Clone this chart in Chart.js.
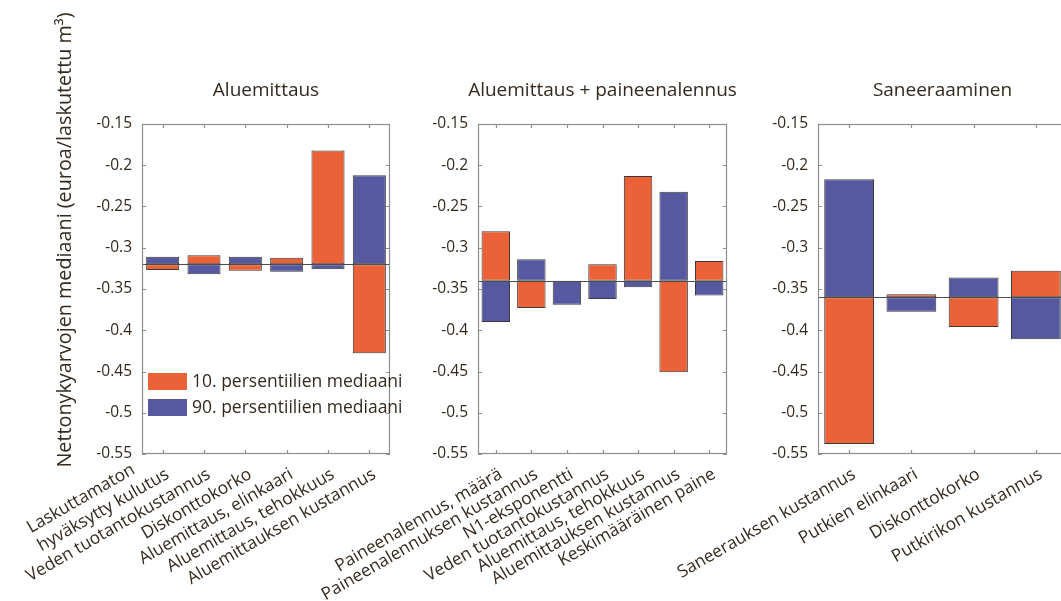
<!DOCTYPE html>
<html lang="fi">
<head>
<meta charset="utf-8">
<title>Nettonykyarvojen mediaanit</title>
<script src="https://cdn.jsdelivr.net/npm/chart.js@4.4.1/dist/chart.umd.min.js"></script>
<style>
  html, body { margin: 0; padding: 0; background: #fff; }
  #wrap { position: relative; width: 1061px; height: 601px; overflow: hidden; }
  .panel { position: absolute; top: 0; height: 601px; }
</style>
</head>
<body>
<div id="wrap">
  <div class="panel" style="left:0;width:420px"><canvas id="c1"></canvas></div>
  <div class="panel" style="left:300px;width:450px"><canvas id="c2"></canvas></div>
  <div class="panel" style="left:640px;width:460px"><canvas id="c3"></canvas></div>
</div>
<script>
// --- data ---
const yAxisTitle = 'Nettonykyarvojen mediaani (euroa/laskutettu m³)';
const seriesNames = ['10. persentiilien mediaani', '90. persentiilien mediaani'];
const yTicks = [-0.15, -0.2, -0.25, -0.3, -0.35, -0.4, -0.45, -0.5, -0.55];

// Aluemittaus
const title1 = 'Aluemittaus';
const base1 = -0.32;
const labels1 = [['Laskuttamaton', 'hyväksytty kulutus'], 'Veden tuotantokustannus', 'Diskonttokorko',
  'Aluemittaus, elinkaari', 'Aluemittaus, tehokkuus', 'Aluemittauksen kustannus'];
const p10_1 = [-0.327, -0.309, -0.328, -0.312, -0.182, -0.428];
const p90_1 = [-0.311, -0.332, -0.311, -0.329, -0.326, -0.212];

// Aluemittaus + paineenalennus
const title2 = 'Aluemittaus + paineenalennus';
const base2 = -0.34;
const labels2 = ['Paineenalennus, määrä', 'Paineenalennuksen kustannus', 'N1-eksponentti',
  'Veden tuotantokustannus', 'Aluemittaus, tehokkuus', 'Aluemittauksen kustannus', 'Keskimääräinen paine'];
const p10_2 = [-0.280, -0.373, -0.340, -0.320, -0.213, -0.451, -0.316];
const p90_2 = [-0.390, -0.314, -0.369, -0.362, -0.348, -0.232, -0.358];

// Saneeraaminen
const title3 = 'Saneeraaminen';
const base3 = -0.36;
const labels3 = ['Saneerauksen kustannus', 'Putkien elinkaari', 'Diskonttokorko', 'Putkirikon kustannus'];
const p10_3 = [-0.538, -0.3565, -0.396, -0.328];
const p90_3 = [-0.217, -0.3775, -0.336, -0.411];

// --- look ---
const ORANGE = '#EB6138';
const BLUE = '#56599F';
const TXT = '#33291f';
const FONT = '"Open Sans", "Noto Sans", sans-serif';

// piirtää laatikon, sisäänpäin olevat tikit, mediaaniviivan, x-tekstit ja otsikon
function framePlugin(spec) {
  return {
    id: 'frame',
    afterDatasetsDraw(chart) {
      const { ctx, chartArea: a, scales: { x, y } } = chart;
      ctx.save();

      // mediaaniviiva
      const by = Math.round(y.getPixelForValue(spec.base)) + 0.5;
      ctx.strokeStyle = '#4d4d4d';
      ctx.lineWidth = 1.2;
      ctx.beginPath(); ctx.moveTo(a.left, by); ctx.lineTo(a.right, by); ctx.stroke();

      // laatikko
      ctx.strokeStyle = '#8e8e8e';
      ctx.lineWidth = 1.2;
      ctx.strokeRect(Math.round(a.left) + 0.5, Math.round(a.top) + 0.5,
        Math.round(a.width) - 1, Math.round(a.height) - 1);

      // tikit sisäänpäin
      ctx.beginPath();
      y.ticks.forEach(t => {
        const py = Math.round(y.getPixelForValue(t.value)) + 0.5;
        ctx.moveTo(a.left, py); ctx.lineTo(a.left + 4, py);
        ctx.moveTo(a.right, py); ctx.lineTo(a.right - 4, py);
      });
      x.ticks.forEach((t, i) => {
        const px = Math.round(x.getPixelForTick(i)) + 0.5;
        ctx.moveTo(px, a.top); ctx.lineTo(px, a.top + 4);
        ctx.moveTo(px, a.bottom); ctx.lineTo(px, a.bottom - 4);
      });
      ctx.stroke();

      // x-akselin tekstit, kierretty 30 astetta, rivit vasemmalle tasattuna
      ctx.fillStyle = TXT;
      ctx.font = '17.3px ' + FONT;
      ctx.textBaseline = 'middle';
      ctx.textAlign = 'left';
      spec.labels.forEach((lab, i) => {
        const lines = Array.isArray(lab) ? lab : [lab];
        const w = Math.max(...lines.map(s => ctx.measureText(s).width));
        ctx.save();
        ctx.translate(x.getPixelForValue(i) + 5, a.bottom + 19);
        ctx.rotate(-30 * Math.PI / 180);
        lines.forEach((s, k) => ctx.fillText(s, -w, (k - lines.length + 1) * 21));
        ctx.restore();
      });

      // paneelin otsikko
      ctx.font = '19px ' + FONT;
      ctx.textAlign = 'center';
      ctx.fillText(spec.title, (a.left + a.right) / 2, 91);

      // vain ekaan paneeliin: y-otsikko ja selite
      if (spec.first) {
        ctx.save();
        ctx.translate(65, 240);
        ctx.rotate(-Math.PI / 2);
        ctx.font = '19.8px ' + FONT;
        ctx.fillText(yAxisTitle, 0, 0);
        ctx.restore();

        ctx.font = '17.5px ' + FONT;
        ctx.textAlign = 'left';
        chart.data.datasets.forEach((ds, k) => {
          const top = a.top + 249 + k * 26;
          ctx.fillStyle = ds.backgroundColor;
          ctx.fillRect(a.left + 6, top, 39, 17);
          ctx.fillStyle = TXT;
          ctx.fillText(ds.label, a.left + 50, top + 9);
        });
      }
      ctx.restore();
    }
  };
}

function makeChart(id, spec) {
  const bars = (vals, name, color) => ({
    label: name,
    data: vals.map(v => [spec.base, v]),
    backgroundColor: color,
    borderColor: 'rgba(35,35,35,0.9)',
    borderWidth: 1,
    borderSkipped: false,
    grouped: false,
    barPercentage: 0.8,
    categoryPercentage: 1.0
  });

  return new Chart(document.getElementById(id), {
    type: 'bar',
    data: {
      labels: spec.labels,
      datasets: [bars(spec.p10, seriesNames[0], ORANGE), bars(spec.p90, seriesNames[1], BLUE)]
    },
    options: {
      responsive: true,
      maintainAspectRatio: false,
      animation: false,
      layout: { padding: { top: 124, bottom: 147, left: 0, right: spec.padRight } },
      plugins: { legend: { display: false }, tooltip: { enabled: false } },
      scales: {
        x: {
          ticks: { display: false },
          grid: { display: false },
          border: { display: false },
          afterFit: s => { s.height = 0; }
        },
        y: {
          min: -0.55,
          max: -0.15,
          grid: { display: false, drawTicks: false },
          border: { display: false },
          afterBuildTicks: s => { s.ticks = yTicks.map(v => ({ value: v })); },
          afterFit: s => { s.width = spec.yWidth; },
          ticks: {
            padding: 10,
            color: TXT,
            font: { family: FONT, size: 15.5 },
            callback: v => String(v)
          }
        }
      }
    },
    plugins: [framePlugin(spec)]
  });
}

makeChart('c1', { title: title1, base: base1, labels: labels1, p10: p10_1, p90: p90_1,
  yWidth: 142, padRight: 30, first: true });
makeChart('c2', { title: title2, base: base2, labels: labels2, p10: p10_2, p90: p90_2,
  yWidth: 178, padRight: 23 });
makeChart('c3', { title: title3, base: base3, labels: labels3, p10: p10_3, p90: p90_3,
  yWidth: 178, padRight: 33 });
</script>
</body>
</html>
